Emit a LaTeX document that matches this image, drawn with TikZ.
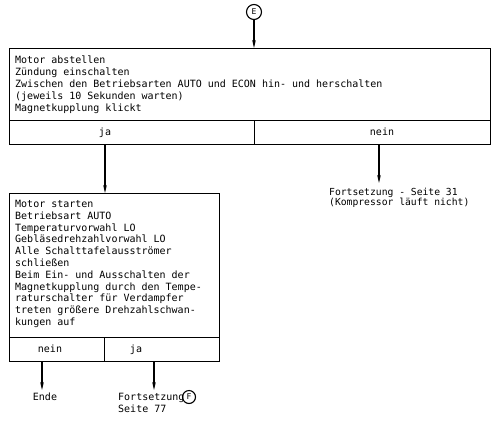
\documentclass[tikz,border=0pt]{standalone}
\usepackage{fontspec}
\setmonofont{DejaVu Sans Mono}
\usetikzlibrary{arrows.meta}
\begin{document}
\begin{tikzpicture}[x=1pt,y=-1pt,
  cell/.style={draw, line width=1.1pt, inner sep=0pt, anchor=north west},
  txt/.style={font=\ttfamily\fontsize{10}{11.8}\selectfont, align=left, inner sep=0pt},
  smalltxt/.style={font=\ttfamily\fontsize{9.7}{10.4}\selectfont, align=left, inner sep=0pt},
  conn/.style={circle, draw, line width=1.1pt, inner sep=0pt},
  arr/.style={line width=1.1pt, -{Stealth[length=8pt,width=3.6pt]}}]
\useasboundingbox (0,0) rectangle (500,424);
% top box
\node[cell, minimum width=481pt, minimum height=72pt] (b1) at (9,48) {};
\node[cell, minimum width=245pt, minimum height=24pt] (b1ja) at (9,120) {};
\node[cell, minimum width=236pt, minimum height=24pt] (b1nein) at (254,120) {};
\node[txt, anchor=north west] (t1) at (15,56) {Motor abstellen\\Zündung einschalten\\Zwischen den Betriebsarten AUTO und ECON hin- und herschalten\\(jeweils 10 Sekunden warten)\\Magnetkupplung klickt};
\node[txt, anchor=base] (ja1) at (105,135.5) {ja};
\node[txt, anchor=base] (nein1) at (382,135.5) {nein};
% connector E
\node[conn, minimum size=15pt, font=\ttfamily\fontsize{8}{8}\selectfont] (E) at (254,12) {E};
\draw[arr] (E) -- (E |- b1.north);
% lower box
\node[cell, minimum width=210pt, minimum height=144pt] (b2) at (9,193) {};
\node[cell, minimum width=95pt, minimum height=24pt] (b2nein) at (9,337) {};
\node[cell, minimum width=115pt, minimum height=24pt] (b2ja) at (104,337) {};
\node[txt, anchor=north west] (t2) at (15,200) {Motor starten\\Betriebsart AUTO\\Temperaturvorwahl LO\\Gebläsedrehzahlvorwahl LO\\Alle Schalttafelausströmer\\schließen\\Beim Ein- und Ausschalten der\\Magnetkupplung durch den Tempe-\\raturschalter für Verdampfer\\treten größere Drehzahlschwan-\\kungen auf};
\node[txt, anchor=base] (nein2) at (50,352.5) {nein};
\node[txt, anchor=base] (ja2) at (136,352.5) {ja};
% arrows from top box
\coordinate (aja) at (105,144);
\draw[arr] (aja) -- (aja |- b2.north);
\coordinate (anein) at (379,144);
\coordinate (aneinend) at (379,183);
\draw[arr] (anein) -- (aneinend);
\node[smalltxt, anchor=north west] (t3) at (329,187.5) {Fortsetzung - Seite 31\\(Kompressor läuft nicht)};
% bottom arrows
\coordinate (aende) at (42,361);
\coordinate (aendeend) at (42,390);
\draw[arr] (aende) -- (aendeend);
\node[txt, anchor=base] (ende) at (45,400.5) {Ende};
\coordinate (afort) at (154,361);
\coordinate (afortend) at (154,390);
\draw[arr] (afort) -- (afortend);
\node[txt, anchor=base west] (fort) at (118,400.5) {Fortsetzung};
\node[txt, anchor=base west] (seite) at (118,412.5) {Seite 77};
\node[conn, minimum size=13pt, font=\ttfamily\fontsize{8}{8}\selectfont] (F) at (189,397) {F};
\end{tikzpicture}
\end{document}
